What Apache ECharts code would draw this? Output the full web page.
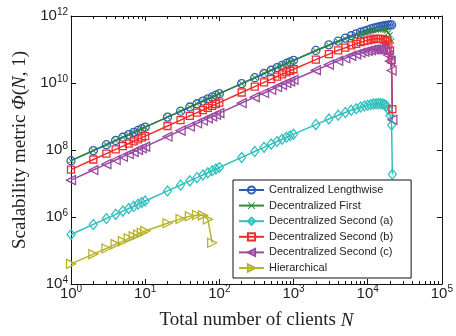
<!DOCTYPE html>
<html>
<head>
<meta charset="utf-8">
<script src="https://cdn.jsdelivr.net/npm/echarts@6/dist/echarts.min.js"></script>
<style>
  html, body { margin: 0; padding: 0; background: #fff; }
  #chart { width: 456px; height: 336px; }
</style>
</head>
<body>
<div id="chart"></div>
<script>
// Client counts N sampled by each scheme
const N_MAIN = [1, 2, 3, 4, 5, 6, 7, 8, 9, 10,
  20, 30, 40, 50, 60, 70, 80, 90, 100,
  200, 300, 400, 500, 600, 700, 800, 900, 1000,
  2000, 3000, 4000, 5000, 6000, 7000, 8000, 9000, 10000,
  11000, 12000, 13000, 14000, 15000, 16000, 17000, 18000, 19000, 20000, 21000];
const N_CUTOFF = [1, 2, 3, 4, 5, 6, 7, 8, 9, 10,
  20, 30, 40, 50, 60, 70, 80, 90, 100,
  200, 300, 400, 500, 600, 700, 800, 900, 1000,
  2000, 3000, 4000, 5000, 6000, 7000, 8000, 9000, 10000,
  11000, 12000, 13000, 14000, 15000, 16000, 17000, 18000, 19000, 20000, 21000, 21500];
const N_HIER = [1, 2, 3, 4, 5, 6, 7, 8, 9, 10, 20, 30, 40, 50, 60, 70, 80];

// Scalability metric Phi(N, 1) per scheme
const centralizedLengthwise = [4.8e7, 9.6e7, 1.44e8, 1.92e8, 2.4e8, 2.88e8, 3.36e8, 3.84e8, 4.32e8, 4.8e8,
  9.6e8, 1.44e9, 1.92e9, 2.4e9, 2.88e9, 3.36e9, 3.84e9, 4.32e9, 4.8e9,
  9.6e9, 1.44e10, 1.92e10, 2.4e10, 2.88e10, 3.35e10, 3.83e10, 4.3e10, 4.75e10,
  9.38e10, 1.375e11, 1.79e11, 2.19e11, 2.57e11, 2.93e11, 3.27e11, 3.55e11, 3.81e11,
  4.10e11, 4.32e11, 4.52e11, 4.70e11, 4.87e11, 5.02e11, 5.15e11, 5.27e11, 5.37e11, 5.40e11, 5.41e11];
const decentralizedFirst = [4.8e7, 9.6e7, 1.44e8, 1.92e8, 2.4e8, 2.88e8, 3.36e8, 3.84e8, 4.32e8, 4.8e8,
  9.6e8, 1.44e9, 1.92e9, 2.4e9, 2.88e9, 3.36e9, 3.84e9, 4.32e9, 4.8e9,
  9.6e9, 1.44e10, 1.92e10, 2.4e10, 2.88e10, 3.35e10, 3.83e10, 4.3e10, 4.7e10,
  9.17e10, 1.34e11, 1.71e11, 2.09e11, 2.40e11, 2.73e11, 2.98e11, 3.20e11, 3.40e11,
  3.57e11, 3.72e11, 3.85e11, 3.96e11, 3.96e11, 3.94e11, 3.82e11, 3.60e11, 3.24e11, 2.71e11, 1.79e11];
const decentralizedSecondA = [3.0e5, 6.0e5, 9.0e5, 1.2e6, 1.5e6, 1.8e6, 2.1e6, 2.4e6, 2.7e6, 3.0e6,
  6.0e6, 9.0e6, 1.2e7, 1.5e7, 1.8e7, 2.1e7, 2.4e7, 2.7e7, 3.0e7,
  6.0e7, 9.0e7, 1.2e8, 1.5e8, 1.8e8, 2.1e8, 2.39e8, 2.68e8, 2.97e8,
  5.73e8, 8.4e8, 1.09e9, 1.31e9, 1.53e9, 1.71e9, 1.91e9, 2.05e9, 2.17e9,
  2.28e9, 2.38e9, 2.41e9, 2.42e9, 2.42e9, 2.35e9, 2.23e9, 2.05e9, 1.61e9, 1.07e9, 5.61e8,
  1.9e7];
const decentralizedSecondB = [2.6e7, 5.2e7, 7.8e7, 1.04e8, 1.3e8, 1.56e8, 1.82e8, 2.08e8, 2.34e8, 2.6e8,
  5.2e8, 7.8e8, 1.04e9, 1.3e9, 1.56e9, 1.82e9, 2.08e9, 2.34e9, 2.6e9,
  5.2e9, 7.8e9, 1.04e10, 1.3e10, 1.56e10, 1.81e10, 2.07e10, 2.32e10, 2.57e10,
  4.97e10, 7.28e10, 9.48e10, 1.13e11, 1.33e11, 1.48e11, 1.65e11, 1.78e11, 1.88e11,
  1.98e11, 2.06e11, 2.09e11, 2.09e11, 2.09e11, 2.04e11, 1.93e11, 1.78e11, 1.39e11, 9.25e10, 4.87e10,
  1.65e9];
const decentralizedSecondC = [1.26e7, 2.52e7, 3.78e7, 5.04e7, 6.3e7, 7.56e7, 8.82e7, 1.01e8, 1.13e8, 1.26e8,
  2.52e8, 3.78e8, 5.04e8, 6.3e8, 7.56e8, 8.82e8, 1.01e9, 1.13e9, 1.26e9,
  2.52e9, 3.78e9, 5.04e9, 6.3e9, 7.56e9, 8.8e9, 1.0e10, 1.12e10, 1.25e10,
  2.41e10, 3.53e10, 4.6e10, 5.49e10, 6.43e10, 7.17e10, 8.0e10, 8.61e10, 9.12e10,
  9.59e10, 9.99e10, 1.01e11, 1.01e11, 1.01e11, 9.88e10, 9.36e10, 8.62e10, 6.75e10, 4.49e10, 2.36e10,
  8.0e8];
const hierarchical = [4.0e4, 7.8e4, 1.15e5, 1.55e5, 1.9e5, 2.3e5, 2.65e5, 3.0e5, 3.4e5, 3.8e5,
  6.5e5, 8.7e5, 1.05e6, 1.15e6, 1.12e6, 8.5e5, 1.7e5];

// Axis ticks
const X_MAJOR = [1, 10, 100, 1000, 10000, 100000];
const Y_MAJOR = [1e4, 1e6, 1e8, 1e10, 1e12];
const X_MINOR = [];
for (let d = 1; d <= 10000; d *= 10) {
  for (let m = 2; m <= 9; m++) X_MINOR.push(m * d);
}

const zip = (xs, ys) => ys.map((y, i) => [xs[i], y]);

const SANS = 'Liberation Sans';
const SERIF = 'Liberation Serif';
const INK = '#222';

const X_MARK = 'path://M0,1L1,0L5,4L9,0L10,1L6,5L10,9L9,10L5,6L1,10L0,9L4,5Z';

function lineSeries(name, color, xs, ys, symbol, size, rotate) {
  const hollow = symbol !== X_MARK;
  return {
    name: name,
    type: 'line',
    data: zip(xs, ys),
    color: color,
    symbol: symbol,
    symbolSize: size,
    symbolRotate: rotate || 0,
    showAllSymbol: true,
    lineStyle: { color: color, width: 1.5 },
    itemStyle: hollow
      ? { color: 'rgba(255,255,255,0)', borderColor: color, borderWidth: 1.3 }
      : { color: color, borderWidth: 0 },
    emphasis: { disabled: true },
    animation: false
  };
}

const powLabel = v => '{b|10}{s|' + Math.round(Math.log10(v)) + '}';
const powRich = {
  b: { fontFamily: SANS, fontSize: 15, lineHeight: 15, color: INK },
  s: { fontFamily: SANS, fontSize: 10, lineHeight: 11, color: INK, padding: [0, 0, 8, 0] }
};

const titleRich = {
  n: { fontFamily: SERIF, fontSize: 19, color: INK },
  i: { fontFamily: SERIF, fontSize: 19, fontStyle: 'italic', color: INK }
};

const axisLine = { show: true, lineStyle: { color: '#111', width: 1 } };
const tickStyle = { color: '#111' };

const chart = echarts.init(document.getElementById('chart'), null, { renderer: 'canvas' });
chart.setOption({
  animation: false,
  backgroundColor: '#fff',
  grid: { left: 71, right: 10, top: 16, bottom: 52, containLabel: false },
  xAxis: [
    {
      type: 'log', logBase: 10, min: 1, max: 100000, position: 'bottom',
      axisLine: axisLine,
      axisTick: { show: true, inside: true, length: 5, customValues: X_MAJOR, lineStyle: tickStyle },
      axisLabel: { show: true, margin: 2, customValues: X_MAJOR, formatter: powLabel, rich: powRich },
      splitLine: { show: false },
      name: '{n|Total number of clients }{i|N}',
      nameLocation: 'middle', nameGap: 27,
      nameTextStyle: { rich: titleRich }
    },
    {
      type: 'log', logBase: 10, min: 1, max: 100000, position: 'bottom',
      axisLine: { show: false },
      axisTick: { show: true, inside: true, length: 3, customValues: X_MINOR, lineStyle: tickStyle },
      axisLabel: { show: false },
      splitLine: { show: false }
    },
    {
      type: 'log', logBase: 10, min: 1, max: 100000, position: 'top',
      axisLine: axisLine,
      axisTick: { show: true, inside: true, length: 5, customValues: X_MAJOR, lineStyle: tickStyle },
      axisLabel: { show: false },
      splitLine: { show: false }
    },
    {
      type: 'log', logBase: 10, min: 1, max: 100000, position: 'top',
      axisLine: { show: false },
      axisTick: { show: true, inside: true, length: 3, customValues: X_MINOR, lineStyle: tickStyle },
      axisLabel: { show: false },
      splitLine: { show: false }
    }
  ],
  yAxis: [
    {
      type: 'log', logBase: 10, min: 1e4, max: 1e12, position: 'left',
      axisLine: axisLine,
      axisTick: { show: true, inside: true, length: 5, customValues: Y_MAJOR, lineStyle: tickStyle },
      axisLabel: { show: true, margin: 3, customValues: Y_MAJOR, formatter: powLabel, rich: powRich },
      splitLine: { show: false },
      name: '{n|Scalability metric }{i|Φ}{n|(}{i|N}{n|, 1)}',
      nameLocation: 'middle', nameGap: 36, nameRotate: 90,
      nameTextStyle: { rich: titleRich }
    },
    {
      type: 'log', logBase: 10, min: 1e4, max: 1e12, position: 'right',
      axisLine: axisLine,
      axisTick: { show: true, inside: true, length: 5, customValues: Y_MAJOR, lineStyle: tickStyle },
      axisLabel: { show: false },
      splitLine: { show: false }
    }
  ],
  legend: {
    orient: 'vertical',
    left: 233, top: 180,
    itemWidth: 25, itemHeight: 9, itemGap: 2.6,
    padding: [3.5, 18, 3.5, 5],
    borderColor: '#111', borderWidth: 1, backgroundColor: '#fff',
    textStyle: { fontFamily: SANS, fontSize: 11, lineHeight: 13, color: INK },
    data: ['Centralized Lengthwise', 'Decentralized First', 'Decentralized Second (a)',
           'Decentralized Second (b)', 'Decentralized Second (c)', 'Hierarchical']
  },
  series: [
    lineSeries('Centralized Lengthwise', '#2c5cb4', N_MAIN, centralizedLengthwise, 'circle', 8),
    lineSeries('Decentralized First', '#2e8a3a', N_MAIN, decentralizedFirst, X_MARK, 6),
    lineSeries('Decentralized Second (a)', '#30c0bd', N_CUTOFF, decentralizedSecondA, 'diamond', [8, 10]),
    lineSeries('Decentralized Second (b)', '#ee2c2c', N_CUTOFF, decentralizedSecondB, 'rect', 7),
    lineSeries('Decentralized Second (c)', '#9a4aa3', N_CUTOFF, decentralizedSecondC, 'triangle', 9, 90),
    lineSeries('Hierarchical', '#b6b42a', N_HIER, hierarchical, 'triangle', 9, -90)
  ]
});
</script>
</body>
</html>
